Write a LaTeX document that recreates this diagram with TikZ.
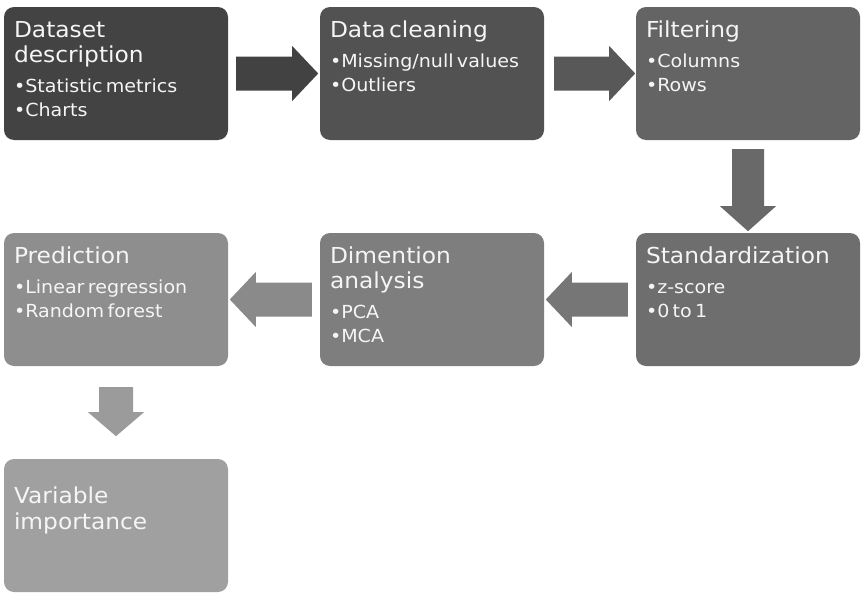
\documentclass[tikz,border=0pt]{standalone}
\usepackage{fontspec}
\setmainfont{DejaVu Sans}[FakeStretch=1.06, WordSpace=1.35]
\usetikzlibrary{calc}
\definecolor{bx1}{RGB}{67,67,67}
\definecolor{bx2}{RGB}{82,82,82}
\definecolor{bx3}{RGB}{100,100,100}
\definecolor{bx4}{RGB}{110,110,110}
\definecolor{bx5}{RGB}{126,126,126}
\definecolor{bx6}{RGB}{142,142,142}
\definecolor{bx7}{RGB}{160,160,160}
\definecolor{ar1}{RGB}{66,66,66}
\definecolor{ar2}{RGB}{88,88,88}
\definecolor{ar3}{RGB}{105,105,105}
\definecolor{ar4}{RGB}{118,118,118}
\definecolor{ar5}{RGB}{138,138,138}
\definecolor{ar6}{RGB}{155,155,155}
\definecolor{txtc}{RGB}{245,245,245}
\newcommand\hdfont{\fontsize{22}{25.5}\selectfont}
\newcommand\blfont{\par\vspace{6pt}\fontsize{18}{24}\selectfont}
\newcommand\nl{\par}
\begin{document}
\begin{tikzpicture}[x=1pt,y=-1pt,
  box/.style={rectangle, rounded corners=10pt, minimum width=224pt, minimum height=133pt, inner sep=0pt, draw=none},
  txt/.style={anchor=base west, inner sep=0pt, text width=214pt, align=left, text=txtc}]
\useasboundingbox (0,0) rectangle (865,597);
% boxes
\node[box, fill=bx1] (b1) at (116,73.5) {};
\node[box, fill=bx2] (b2) at (432,73.5) {};
\node[box, fill=bx3] (b3) at (748,73.5) {};
\node[box, fill=bx4] (b4) at (748,299.5) {};
\node[box, fill=bx5] (b5) at (432,299.5) {};
\node[box, fill=bx6] (b6) at (116,299.5) {};
\node[box, fill=bx7] (b7) at (116,525.5) {};
% texts
\node[txt] (t1) at ($(b1.north west)+(10,30.5)$) {\hdfont Dataset\nl description\blfont •Statistic metrics\nl •Charts\par};
\node[txt] (t2) at ($(b2.north west)+(10,30.5)$) {\hdfont Data cleaning\blfont •Missing/null values\nl •Outliers\par};
\node[txt] (t3) at ($(b3.north west)+(10,30.5)$) {\hdfont Filtering\blfont •Columns\nl •Rows\par};
\node[txt] (t4) at ($(b4.north west)+(10,30.5)$) {\hdfont Standardization\blfont •z-score\nl •0 to 1\par};
\node[txt] (t5) at ($(b5.north west)+(10,30.5)$) {\hdfont Dimention\nl analysis\blfont •PCA\nl •MCA\par};
\node[txt] (t6) at ($(b6.north west)+(10,30.5)$) {\hdfont Prediction\blfont •Linear regression\nl •Random forest\par};
\node[txt] (t7) at ($(b7.north west)+(10,45)$) {\hdfont Variable\nl importance\par};
% arrows
\coordinate (a1) at ($(b1.east)+(8,0)$);
\fill[ar1] (a1) ++(0,-17) -- ++(56,0) -- ++(0,-10.5) -- ++(26,27.5) -- ++(-26,27.5) -- ++(0,-10.5) -- ++(-56,0) -- cycle;
\coordinate (a2) at ($(b2.east)+(10,0)$);
\fill[ar2] (a2) ++(0,-17) -- ++(55,0) -- ++(0,-10.5) -- ++(26,27.5) -- ++(-26,27.5) -- ++(0,-10.5) -- ++(-55,0) -- cycle;
\coordinate (a3) at ($(b3.south)+(0,9)$);
\fill[ar3] (a3) ++(-16,0) -- ++(0,57) -- ++(-12,0) -- ++(28,25) -- ++(28,-25) -- ++(-12,0) -- ++(0,-57) -- cycle;
\coordinate (a4) at ($(b4.west)+(-8,0)$);
\fill[ar4] (a4) ++(0,-17) -- ++(-56,0) -- ++(0,-10.5) -- ++(-26,27.5) -- ++(26,27.5) -- ++(0,-10.5) -- ++(56,0) -- cycle;
\coordinate (a5) at ($(b5.west)+(-8,0)$);
\fill[ar5] (a5) ++(0,-17) -- ++(-56,0) -- ++(0,-10.5) -- ++(-26,27.5) -- ++(26,27.5) -- ++(0,-10.5) -- ++(56,0) -- cycle;
\coordinate (a6) at ($(b6.south)+(0,21)$);
\fill[ar6] (a6) ++(-17,0) -- ++(0,25) -- ++(-11,0) -- ++(28,24) -- ++(28,-24) -- ++(-11,0) -- ++(0,-25) -- cycle;
\end{tikzpicture}
\end{document}
